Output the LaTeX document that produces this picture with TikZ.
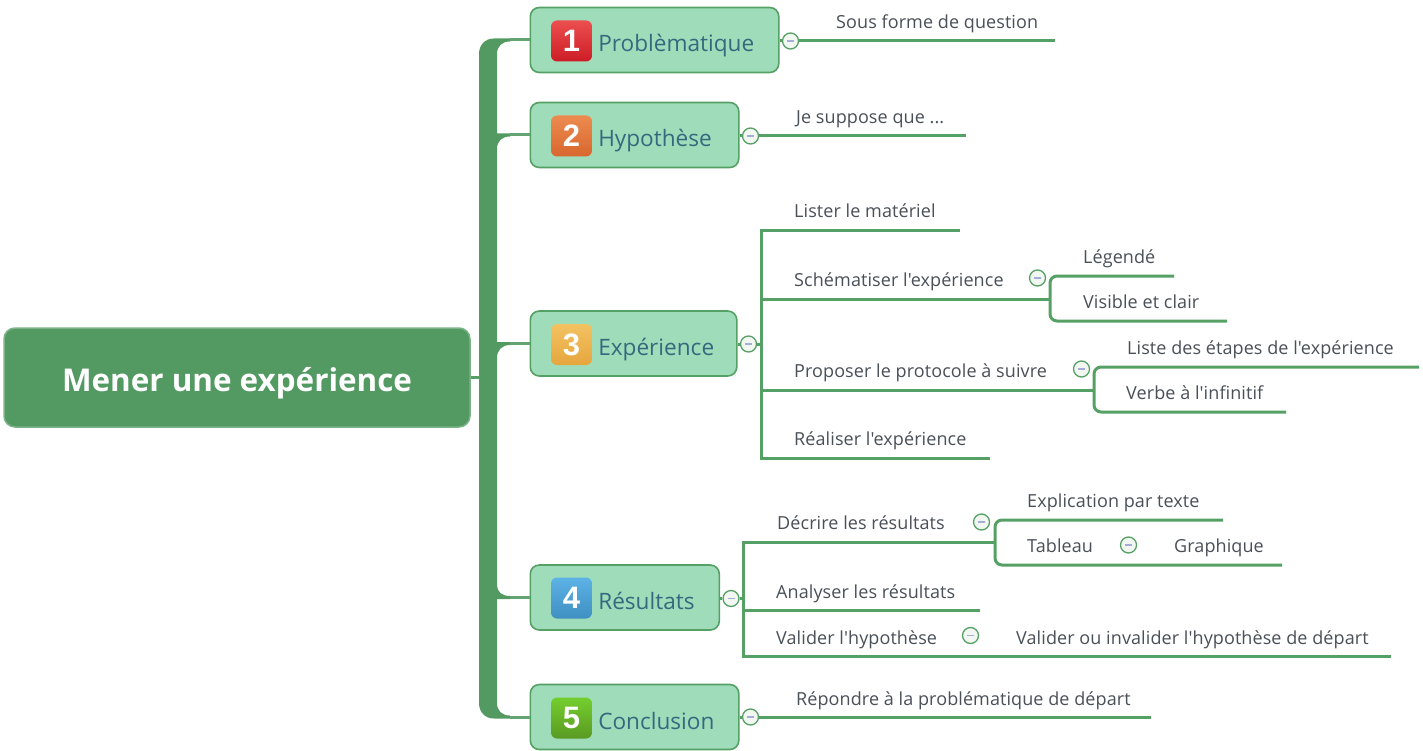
\documentclass[tikz,border=0pt]{standalone}
\usepackage{fontspec}
\setmainfont[Ligatures=TeXOff]{Open Sans}
\newfontfamily\badgefont{Liberation Sans}
\definecolor{branchgreen}{HTML}{55A064}
\definecolor{rootgreen}{HTML}{529A62}
\definecolor{topicfill}{HTML}{9FDCB9}
\definecolor{topictext}{HTML}{35697F}
\definecolor{leaftext}{HTML}{4A5058}
\definecolor{minusblue}{HTML}{A4ACD8}
\definecolor{collapsefill}{HTML}{F2F7F2}
\definecolor{redtop}{HTML}{EC4F4F}
\definecolor{redbottom}{HTML}{CC1C26}
\definecolor{orangetop}{HTML}{EC8B50}
\definecolor{orangebottom}{HTML}{D8672E}
\definecolor{yellowtop}{HTML}{F3C262}
\definecolor{yellowbottom}{HTML}{E6A63E}
\definecolor{bluetop}{HTML}{5DB2E6}
\definecolor{bluebottom}{HTML}{3F8FC2}
\definecolor{greentop}{HTML}{74CE2E}
\definecolor{greenbottom}{HTML}{5A9A22}
\begin{document}
\begin{tikzpicture}
		[
		x=1pt,y=-1pt,
		root/.style={
		draw=rootgreen!75!white,
		fill=rootgreen,
		line width=1.5pt,
		rectangle,
		rounded corners=11pt,
		minimum width=466pt,
		minimum height=99pt,
		text height=28pt,
		text depth=0pt,
		text=white,
		font=\fontsize{31.4}{36}\selectfont\bfseries},
		topic/.style={
		draw=branchgreen,
		fill=topicfill,
		line width=1.6pt,
		rectangle,
		rounded corners=9pt,
		anchor=west,
		inner sep=0pt,
		text width=#1,
		minimum height=65pt,
		text height=24pt,
		text depth=0pt,
		align=left,
		text=topictext,
		execute at begin node=\hspace*{68pt},
		font=\fontsize{22.6}{28}\selectfont},
		badge/.style={
		rectangle,
		rounded corners=6pt,
		minimum size=41pt,
		inner sep=0pt,
		text=white,
		font=\fontsize{31}{36}\badgefont\bfseries},
		leaf/.style={
		anchor=base west,
		inner sep=0pt,
		yshift=-1pt,
		text=leaftext,
		font=\fontsize{18}{20}\selectfont\addfontfeature{LetterSpace=0.5}},
		collapse/.style={
		circle,
		draw=branchgreen,
		fill=collapsefill,
		line width=1.3pt,
		minimum size=16pt,
		inner sep=0pt,
		path picture={\draw[minusblue,line width=1.5pt] (path picture bounding box.center) +(-3.5,0) -- +(3.5,0);}},
		branch/.style={
		draw=branchgreen,
		line width=3pt}
		]
		\useasboundingbox (0,0) rectangle (1423,751);
		\fill[white] (0,0) rectangle (1423,751);

		\coordinate (trunk_root) at (480,380);
		\coordinate (trunk_one) at (510,40);
		\coordinate (trunk_two) at (510,135);
		\coordinate (trunk_three) at (510,343.5);
		\coordinate (trunk_four) at (510,597.5);
		\coordinate (trunk_five) at (510,717);
		\fill[rootgreen] (510,41.5) .. controls (502,41.5) and (497,46) .. (497,54) -- (497,133.5) -- (510,133.5) -- (510,136.5) .. controls (502,136.5) and (497,141) .. (497,149) -- (497,342) -- (510,342) -- (510,345) .. controls (502,345) and (497,350) .. (497,358) -- (497,585) .. controls (497,592) and (502,596) .. (510,596) -- (510,599) -- (497,599) -- (497,703) .. controls (497,711) and (502,715.5) .. (510,715.5) -- (510,718.5) -- (494,718.5) .. controls (485,718.5) and (479,712) .. (479,703) -- (479,54) .. controls (479,45) and (485,38.5) .. (494,38.5) -- (510,38.5) -- cycle;

		\node[root] (root) at (237,377.5) {Mener une expérience};

		\node[topic=248.5pt] (topic_one) at (529.5,40) {Problèmatique};
		\node[topic=208.5pt] (topic_two) at (529.5,135) {Hypothèse};
		\node[topic=206.5pt] (topic_three) at (529.5,343.5) {Expérience};
		\node[topic=189pt] (topic_four) at (529.5,597.5) {Résultats};
		\node[topic=208.5pt] (topic_five) at (529.5,717) {Conclusion};

		\node[badge,top color=redtop,bottom color=redbottom] (badge_one) at (571.5,41) {1};
		\node[badge,top color=orangetop,bottom color=orangebottom] (badge_two) at (571.5,136) {2};
		\node[badge,top color=yellowtop,bottom color=yellowbottom] (badge_three) at (571.5,344.5) {3};
		\node[badge,top color=bluetop,bottom color=bluebottom] (badge_four) at (571.5,598) {4};
		\node[badge,top color=greentop,bottom color=greenbottom] (badge_five) at (571.5,718) {5};

		\node[collapse] (collapse_one) at (790.5,41) {};
		\node[collapse] (collapse_two) at (750.5,136) {};
		\node[collapse] (collapse_three) at (748.5,344) {};
		\node[collapse] (collapse_four) at (731,598.5) {};
		\node[collapse] (collapse_five) at (750.5,717) {};
		\node[collapse] (collapse_schema) at (1037.5,278) {};
		\node[collapse] (collapse_protocole) at (1081.5,369) {};
		\node[collapse] (collapse_decrire) at (981.5,522) {};
		\node[collapse] (collapse_tableau) at (1128.5,545) {};
		\node[collapse] (collapse_valider) at (970.5,635.5) {};

		\node[leaf] (question) at (836,27.5) {Sous forme de question};
		\node[leaf] (suppose) at (796,122.5) {Je suppose que ...};
		\node[leaf] (lister) at (794,217) {Lister le matériel};
		\node[leaf] (schematiser) at (794,285.5) {Schématiser l'expérience};
		\node[leaf] (proposer) at (794,376.5) {Proposer le protocole à suivre};
		\node[leaf] (realiser) at (794,444.5) {Réaliser l'expérience};
		\node[leaf] (legende) at (1083,262.5) {Légendé};
		\node[leaf] (visible) at (1083,307.5) {Visible et clair};
		\node[leaf] (liste) at (1127,353.5) {Liste des étapes de l'expérience};
		\node[leaf] (verbe) at (1126,398.5) {Verbe à l'infinitif};
		\node[leaf] (decrire) at (777,528.5) {Décrire les résultats};
		\node[leaf] (analyser) at (776,597.5) {Analyser les résultats};
		\node[leaf] (valider) at (776,643.5) {Valider l'hypothèse};
		\node[leaf] (invalider) at (1016,643.5) {Valider ou invalider l'hypothèse de départ};
		\node[leaf] (explication) at (1027,506.5) {Explication par texte};
		\node[leaf] (tableau) at (1027,551.5) {Tableau};
		\node[leaf] (graphique) at (1174,551.5) {Graphique};
		\node[leaf] (repondre) at (796,704.5) {Répondre à la problématique de départ};

		\coordinate (question_end) at (1055,41);
		\coordinate (suppose_end) at (966,136);
		\coordinate (experience_bus) at (761,344);
		\coordinate (lister_end) at (960,231);
		\coordinate (schematiser_end) at (1050,299);
		\coordinate (proposer_end) at (1094,390);
		\coordinate (realiser_end) at (990,458);
		\coordinate (legende_end) at (1174,276);
		\coordinate (visible_end) at (1227,321);
		\coordinate (liste_end) at (1419,367);
		\coordinate (verbe_end) at (1286,412);
		\coordinate (resultats_bus) at (743.5,598.5);
		\coordinate (decrire_end) at (995,542);
		\coordinate (analyser_end) at (980,610.5);
		\coordinate (valider_end) at (1391,656);
		\coordinate (explication_end) at (1223,520);
		\coordinate (tableau_end) at (1282,565);
		\coordinate (repondre_end) at (1151,717);

		\draw[branch] (root.east) -- (root.east -| trunk_root);
		\draw[branch,rootgreen!90!white] (trunk_one) -- (topic_one.west);
		\draw[branch,rootgreen!90!white] (trunk_two) -- (topic_two.west);
		\draw[branch,rootgreen!90!white] (trunk_three) -- (topic_three.west);
		\draw[branch,rootgreen!90!white] (trunk_four) -- (topic_four.west);
		\draw[branch,rootgreen!90!white] (trunk_five) -- (topic_five.west);

		\draw[branch] (topic_one.east |- collapse_one) -- (collapse_one);
		\draw[branch] (topic_two.east |- collapse_two) -- (collapse_two);
		\draw[branch] (topic_three.east |- collapse_three) -- (collapse_three);
		\draw[branch] (topic_four.east |- collapse_four) -- (collapse_four);
		\draw[branch] (topic_five.east |- collapse_five) -- (collapse_five);

		\draw[branch] (collapse_one) -- (question_end);
		\draw[branch] (collapse_two) -- (suppose_end);
		\draw[branch] (collapse_five) -- (repondre_end);

		\draw[branch] (collapse_three) -- (experience_bus);
		\draw[branch] (lister_end) -| (experience_bus) |- (realiser_end);
		\draw[branch] (experience_bus) |- (schematiser_end);
		\draw[branch] (experience_bus) |- (proposer_end);
		\draw[branch,rounded corners=7pt] (legende_end) -| (schematiser_end) |- (visible_end);
		\draw[branch,rounded corners=7pt] (liste_end) -| (proposer_end) |- (verbe_end);

		\draw[branch] (collapse_four) -- (resultats_bus);
		\draw[branch] (decrire_end) -| (resultats_bus) |- (valider_end);
		\draw[branch] (resultats_bus) |- (analyser_end);
		\draw[branch,rounded corners=7pt] (explication_end) -| (decrire_end) |- (tableau_end);
		\end{tikzpicture}
\end{document}
